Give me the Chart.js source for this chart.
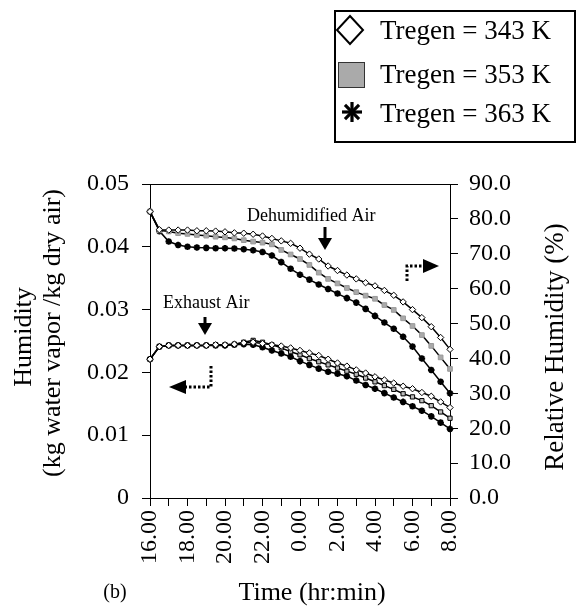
<!DOCTYPE html>
<html>
<head>
<meta charset="utf-8">
<script src="https://cdn.jsdelivr.net/npm/chart.js@4"></script>
<style>
html,body{margin:0;padding:0;background:#fff;}
#wrap{position:relative;width:576px;height:610px;}
</style>
</head>
<body>
<div id="wrap"><canvas id="c" width="576" height="610"></canvas></div>
<script>
// Time in hours after 16:00
const times = [0,0.5,1,1.5,2,2.5,3,3.5,4,4.5,5,5.5,6,6.5,7,7.5,8,8.5,9,9.5,10,10.5,11,11.5,12,12.5,13,13.5,14,14.5,15,15.5,16];
const xTickLabels = ['16.00','','18.00','','20.00','','22.00','','0.00','','2.00','','4.00','','6.00','','8.00'];
const yLeftTickLabels = ['0','0.01','0.02','0.03','0.04','0.05'];
const yRightTickLabels = ['0.0','10.0','20.0','30.0','40.0','50.0','60.0','70.0','80.0','90.0'];
const seriesNames = ['Tregen = 343 K','Tregen = 353 K','Tregen = 363 K'];

// Dehumidified air relative humidity (%) - right axis
const rh343 = [82.1,76.9,76.8,76.8,76.8,76.6,76.6,76.5,76.3,76.0,75.9,75.6,75.1,74.4,73.7,73.0,71.6,69.9,68.5,66.5,65.2,63.9,62.8,61.7,60.8,59.5,58.1,56.2,54.0,51.7,49.1,46.0,42.6];
const rh353 = [82.1,76.7,76.4,75.9,75.7,75.4,75.2,74.9,74.7,74.4,73.9,73.5,73.2,72.7,71.1,69.8,68.5,66.8,64.6,62.8,61.5,60.2,59.0,58.0,57.1,55.3,53.9,51.5,49.3,46.7,43.6,40.3,37.0];
const rh363 = [82.1,76.5,73.5,72.5,72.0,71.8,71.7,71.6,71.6,71.5,71.3,71.0,70.5,69.5,67.6,65.7,64.0,62.6,61.2,59.9,58.6,57.3,56.0,54.2,52.2,50.3,48.5,46.2,43.4,40.0,36.7,33.3,30.0];
// Exhaust air humidity (kg/kg) - left axis
const h343 = [0.0221,0.0241,0.0243,0.0243,0.0243,0.0243,0.0243,0.0244,0.0244,0.0245,0.0247,0.0248,0.0246,0.0244,0.0242,0.0239,0.0235,0.0231,0.0227,0.0221,0.0215,0.0210,0.0204,0.0199,0.0193,0.0188,0.0183,0.0178,0.0174,0.0168,0.0162,0.0153,0.0144];
const h353 = [0.0221,0.0241,0.0243,0.0243,0.0243,0.0243,0.0243,0.0244,0.0244,0.0245,0.0248,0.0251,0.0248,0.0244,0.0239,0.0233,0.0228,0.0222,0.0217,0.0212,0.0207,0.0202,0.0197,0.0191,0.0185,0.0179,0.0173,0.0166,0.0161,0.0155,0.0147,0.0137,0.0127];
const h363 = [0.0221,0.0241,0.0243,0.0243,0.0243,0.0243,0.0243,0.0243,0.0243,0.0244,0.0245,0.0244,0.0240,0.0235,0.0230,0.0225,0.0218,0.0212,0.0206,0.0201,0.0198,0.0194,0.0187,0.0180,0.0174,0.0167,0.0160,0.0153,0.0146,0.0139,0.0130,0.0120,0.0110];

const pts = arr => arr.map((v,i)=>({x:times[i], y:v}));
const SERIF = "'Liberation Serif','Times New Roman',serif";
Chart.defaults.font.family = SERIF;
Chart.defaults.color = '#000';

function ds(label, arr, axis, style){
  return Object.assign({
    label, data: pts(arr), yAxisID: axis,
    borderColor:'#000', borderWidth:1.5, tension:0, clip:false,
    pointRadius:3, pointBorderWidth:1, pointBorderColor:'#000', pointBackgroundColor:'#fff'
  }, style);
}

const datasets = [
  ds(seriesNames[0], rh343, 'y1', {pointStyle:'rectRot', pointRadius:3.2}),
  ds(seriesNames[1], rh353, 'y1', {pointStyle:'rect', pointBackgroundColor:'#aaa', pointBorderColor:'#999', pointRadius:3.3}),
  ds(seriesNames[2], rh363, 'y1', {pointStyle:'star', pointRadius:3.3, pointBorderWidth:2}),
  ds(seriesNames[0], h343, 'y', {pointStyle:'rectRot', pointRadius:3.2}),
  ds(seriesNames[1], h353, 'y', {pointStyle:'rect', pointBackgroundColor:'#bbb', pointRadius:3}),
  ds(seriesNames[2], h363, 'y', {pointStyle:'star', pointRadius:3.3, pointBorderWidth:2})
];

function arrowDown(ctx, x, y0, y1){
  ctx.beginPath(); ctx.lineWidth=3; ctx.moveTo(x,y0); ctx.lineTo(x,y1-10); ctx.stroke();
  ctx.beginPath(); ctx.moveTo(x-7,y1-12); ctx.lineTo(x+7,y1-12); ctx.lineTo(x,y1); ctx.closePath(); ctx.fill();
}

const extras = {
  id:'extras',
  afterDraw(chart){
    const ctx = chart.ctx, a = chart.chartArea;
    ctx.save();
    ctx.strokeStyle='#000'; ctx.fillStyle='#000';
    // top frame
    ctx.lineWidth=1; ctx.beginPath(); ctx.moveTo(a.left, a.top+0.5); ctx.lineTo(a.right, a.top+0.5); ctx.stroke();
    // axis titles
    ctx.textAlign='center'; ctx.textBaseline='middle';
    ctx.font = "26px "+SERIF;
    ctx.save(); ctx.translate(24,337); ctx.rotate(-Math.PI/2); ctx.fillText('Humidity',0,0); ctx.restore();
    ctx.save(); ctx.translate(53,333); ctx.rotate(-Math.PI/2); ctx.fillText('(kg water vapor /kg dry air)',0,0); ctx.restore();
    ctx.font = "27px "+SERIF;
    ctx.save(); ctx.translate(556,347); ctx.rotate(-Math.PI/2); ctx.fillText('Relative Humidity (%)',0,0); ctx.restore();
    ctx.font = "26px "+SERIF;
    ctx.fillText('Time (hr:min)', 312, 593);
    ctx.font = "20px "+SERIF;
    ctx.fillText('(b)', 115, 593);
    // annotations
    ctx.font = "18px "+SERIF; ctx.textAlign='left'; ctx.textBaseline='alphabetic';
    ctx.fillText('Dehumidified Air', 247, 221);
    ctx.fillText('Exhaust Air', 163, 308);
    arrowDown(ctx, 325, 227, 250);
    arrowDown(ctx, 205, 317, 335);
    // dotted arrows
    ctx.lineWidth=3; ctx.setLineDash([2.5,2]);
    ctx.beginPath(); ctx.moveTo(407,281); ctx.lineTo(407,266); ctx.lineTo(423,266); ctx.stroke();
    ctx.beginPath(); ctx.moveTo(211,366); ctx.lineTo(211,387); ctx.lineTo(185,387); ctx.stroke();
    ctx.setLineDash([]);
    ctx.beginPath(); ctx.moveTo(423,259); ctx.lineTo(439,266); ctx.lineTo(423,273); ctx.closePath(); ctx.fill();
    ctx.beginPath(); ctx.moveTo(186,380); ctx.lineTo(169,387); ctx.lineTo(186,394); ctx.closePath(); ctx.fill();
    // legend
    ctx.lineWidth=2; ctx.strokeRect(335,11,240,131);
    ctx.lineWidth=2;
    ctx.beginPath(); ctx.moveTo(350,16); ctx.lineTo(363,30); ctx.lineTo(350,44); ctx.lineTo(337,30); ctx.closePath();
    ctx.fillStyle='#fff'; ctx.fill(); ctx.stroke();
    ctx.fillStyle='#aaa'; ctx.fillRect(338,62,27,26);
    ctx.lineWidth=1; ctx.strokeStyle='#333'; ctx.strokeRect(338.5,62.5,26,25);
    ctx.strokeStyle='#000'; ctx.lineWidth=3.2;
    const cx=352, cy=112, r=10;
    for(let k=0;k<4;k++){
      const ang = k*Math.PI/4;
      ctx.beginPath(); ctx.moveTo(cx-r*Math.cos(ang), cy-r*Math.sin(ang)); ctx.lineTo(cx+r*Math.cos(ang), cy+r*Math.sin(ang)); ctx.stroke();
    }
    ctx.fillStyle='#000';
    ctx.font = "27px "+SERIF; ctx.textAlign='left'; ctx.textBaseline='alphabetic';
    ctx.fillText(seriesNames[0], 380, 39);
    ctx.fillText(seriesNames[1], 380, 83);
    ctx.fillText(seriesNames[2], 380, 122);
    ctx.restore();
  }
};

const tickFont = {size:24, family:SERIF};
new Chart(document.getElementById('c'), {
  type:'line',
  data:{datasets},
  options:{
    responsive:false, animation:false, devicePixelRatio:1,
    layout:{padding:{top:184, left:0, right:0, bottom:0}},
    plugins:{legend:{display:false}, tooltip:{enabled:false}},
    scales:{
      x:{type:'linear', min:0, max:16,
        afterFit(s){ s.height = 112; },
        afterBuildTicks(s){ s.ticks = xTickLabels.map((l,i)=>({value:i})); },
        ticks:{stepSize:1, autoSkip:false, maxRotation:90, minRotation:90, padding:4, font:tickFont,
          callback:(v,i)=>xTickLabels[i]},
        grid:{drawOnChartArea:false, drawTicks:true, tickLength:8, color:'#000', lineWidth:1},
        border:{display:true, color:'#000', width:1}
      },
      y:{type:'linear', position:'left', min:0, max:0.05,
        afterFit(s){ s.width = 150; },
        afterBuildTicks(s){ s.ticks = yLeftTickLabels.map((l,i)=>({value:i*0.01})); },
        ticks:{padding:13, font:tickFont, callback:(v,i)=>yLeftTickLabels[i]},
        grid:{drawOnChartArea:false, drawTicks:true, tickLength:8, color:'#000', lineWidth:1},
        border:{display:true, color:'#000', width:1}
      },
      y1:{type:'linear', position:'right', min:0, max:90,
        afterFit(s){ s.width = 126; },
        afterBuildTicks(s){ s.ticks = yRightTickLabels.map((l,i)=>({value:i*10})); },
        ticks:{padding:11, font:tickFont, callback:(v,i)=>yRightTickLabels[i]},
        grid:{drawOnChartArea:false, drawTicks:true, tickLength:8, color:'#000', lineWidth:1},
        border:{display:true, color:'#000', width:1}
      }
    }
  },
  plugins:[extras]
});
</script>
</body>
</html>
